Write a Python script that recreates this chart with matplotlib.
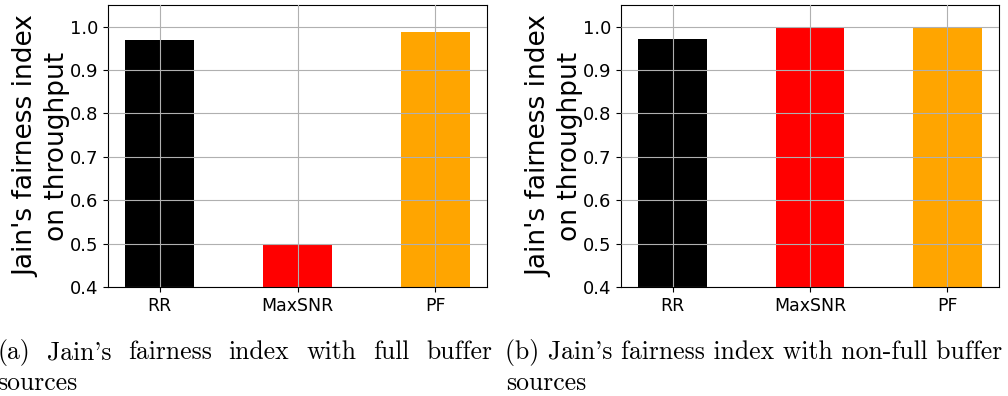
import matplotlib
matplotlib.use('Agg')
import matplotlib.pyplot as plt

schemes = ['RR', 'MaxSNR', 'PF']
colors = ['black', 'red', 'orange']
fairness_full = [0.969, 0.500, 0.987]
fairness_nonfull = [0.972, 1.000, 0.9995]
yticks = [0.4, 0.5, 0.6, 0.7, 0.8, 0.9, 1.0]

caption_a = "(a) Jain's fairness index with full buffer"
caption_b = "(b) Jain's fairness index with non-full buffer"

W, H = 1008, 396
fig = plt.figure(figsize=(W / 100, H / 100), dpi=100)

ax1 = fig.add_axes([108 / W, 1 - 287 / H, 379 / W, 282 / H])
ax2 = fig.add_axes([621 / W, 1 - 287 / H, 378 / W, 282 / H])

for ax, vals in [(ax1, fairness_full), (ax2, fairness_nonfull)]:
    ax.bar(range(len(schemes)), vals, width=0.5, color=colors)
    ax.set_ylim(0.4, 1.05)
    ax.set_yticks(yticks)
    ax.set_xticks(range(len(schemes)))
    ax.set_xticklabels(schemes, fontsize=12.5)
    ax.tick_params(axis='y', labelsize=13)
    ax.set_ylabel("Jain's fairness index\non throughput", fontsize=19, labelpad=0)
    ax.grid(True, color='#b0b0b0', linewidth=0.8)
    ax.set_axisbelow(False)

renderer = fig.canvas.get_renderer()

# caption (b) is set at natural spacing and fills 505..1003 px, so size the font from it
probe = fig.text(0, 0, caption_b, family=['cmr10', 'DejaVu Serif'], fontsize=20)
cap_size = 20 * 498 / probe.get_window_extent(renderer).width
probe.remove()
cap_font = dict(family=['cmr10', 'DejaVu Serif'], fontsize=cap_size)


def justified(text, x0, x1, y):
    words = text.split()
    objs = [fig.text(0, y / H, w, va='baseline', **cap_font) for w in words]
    widths = [o.get_window_extent(renderer).width for o in objs]
    gap = (x1 - x0 - sum(widths)) / (len(words) - 1)
    x = x0
    for o, w in zip(objs, widths):
        o.set_x(x / W)
        x += w + gap


justified(caption_a, -3, 492, H - 359)
fig.text(505 / W, (H - 359) / H, caption_b, va='baseline', **cap_font)
fig.text(-3 / W, (H - 390) / H, 'sources', va='baseline', **cap_font)
fig.text(506 / W, (H - 390) / H, 'sources', va='baseline', **cap_font)

fig.savefig('out.png', dpi=100)
